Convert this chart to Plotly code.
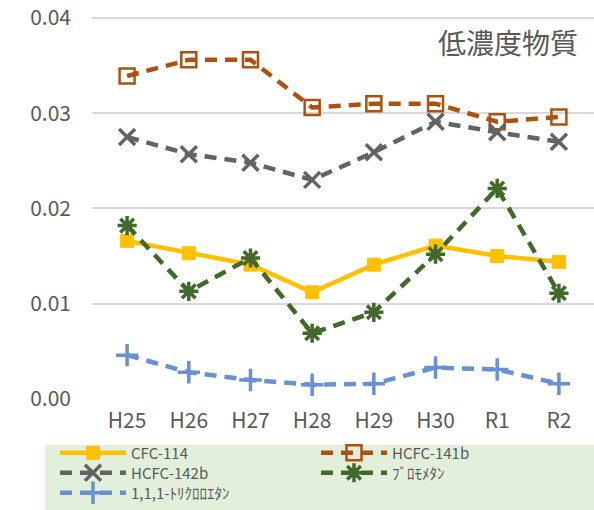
import plotly.graph_objects as go

categories = ["H25", "H26", "H27", "H28", "H29", "H30", "R1", "R2"]
cfc114 = [0.0166, 0.0153, 0.0141, 0.0112, 0.0141, 0.0161, 0.0150, 0.0144]
hcfc141b = [0.0339, 0.0356, 0.0356, 0.0306, 0.0310, 0.0310, 0.0291, 0.0296]
hcfc142b = [0.0275, 0.0257, 0.0248, 0.0230, 0.0259, 0.0291, 0.0280, 0.0270]
bromomethane = [0.0182, 0.0113, 0.0148, 0.0069, 0.0091, 0.0152, 0.0221, 0.0111]
trichloroethane = [0.0046, 0.0028, 0.0020, 0.0015, 0.0016, 0.0033, 0.0031, 0.0016]
y_ticks = [0.00, 0.01, 0.02, 0.03, 0.04]

FONT = "Noto Sans CJK JP"
TXT = "#595959"

# name, values, colour, dash, marker, marker size, marker line width, legend row
series = [
    ("CFC-114", cfc114, "#FFC000", "solid", "square", 13, 1, "legend"),
    ("HCFC-141b", hcfc141b, "#B0500F", "12px,8px", "square-open", 15, 2.5, "legend"),
    ("HCFC-142b", hcfc142b, "#636363", "12px,8px", "x-thin-open", 16, 3.5, "legend2"),
    ("ﾌﾞﾛﾓﾒﾀﾝ", bromomethane, "#43682B", "12px,8px", "asterisk-open", 16, 3.5, "legend2"),
    ("1,1,1-ﾄﾘｸﾛﾛｴﾀﾝ", trichloroethane, "#6A8FD4", "12px,8px", "cross-thin-open", 16, 3.5, "legend3"),
]

fig = go.Figure()
for name, vals, color, dash, sym, size, mlw, leg in series:
    fig.add_trace(go.Scatter(
        x=categories, y=vals, name=name, mode="lines+markers", legend=leg,
        line=dict(color=color, width=4.5, dash=dash),
        marker=dict(symbol=sym, size=size, color=color,
                    line=dict(color=color, width=mlw)),
    ))

fig.add_shape(type="rect", xref="paper", yref="paper",
              x0=-0.094, x1=1.0, y0=-0.2898, y1=-0.1201,
              fillcolor="#E2EFDA", line=dict(width=0), layer="below")

fig.add_annotation(text="低濃度物質", xref="paper", yref="paper",
                   x=0.972, y=0.932, xanchor="right", yanchor="middle",
                   showarrow=False, font=dict(family=FONT, size=28, color=TXT))


def leg_style(y):
    return dict(orientation="h", x=-0.0737, xanchor="left", y=y, yanchor="top",
                bgcolor="rgba(0,0,0,0)", font=dict(family=FONT, size=15, color=TXT),
                entrywidth=180, tracegroupgap=0, itemwidth=66)


fig.update_layout(
    width=594, height=510,
    margin=dict(l=92, r=0, t=16, b=111, autoexpand=False),
    paper_bgcolor="white", plot_bgcolor="white",
    font=dict(family=FONT, color=TXT),
    showlegend=True,
    hovermode=False,
    legend=leg_style(-0.0979),
    legend2=leg_style(-0.1501),
    legend3=leg_style(-0.2023),
    xaxis=dict(type="category", showgrid=False, showline=False, ticks="",
               ticklabelstandoff=7,
               tickfont=dict(family=FONT, size=21, color=TXT)),
    yaxis=dict(range=[0, 0.0402], tickvals=y_ticks, tickformat=".2f",
               showgrid=True, gridcolor="#D9D9D9", gridwidth=1.5,
               zeroline=False, showline=False, ticks="", ticklabelstandoff=20,
               ticklabeloverflow="allow",
               tickfont=dict(family=FONT, size=21, color=TXT)),
)

fig.write_html("out.html", config={"displayModeBar": False},
               post_script="document.body.style.margin='0';document.body.style.overflow='hidden';")
